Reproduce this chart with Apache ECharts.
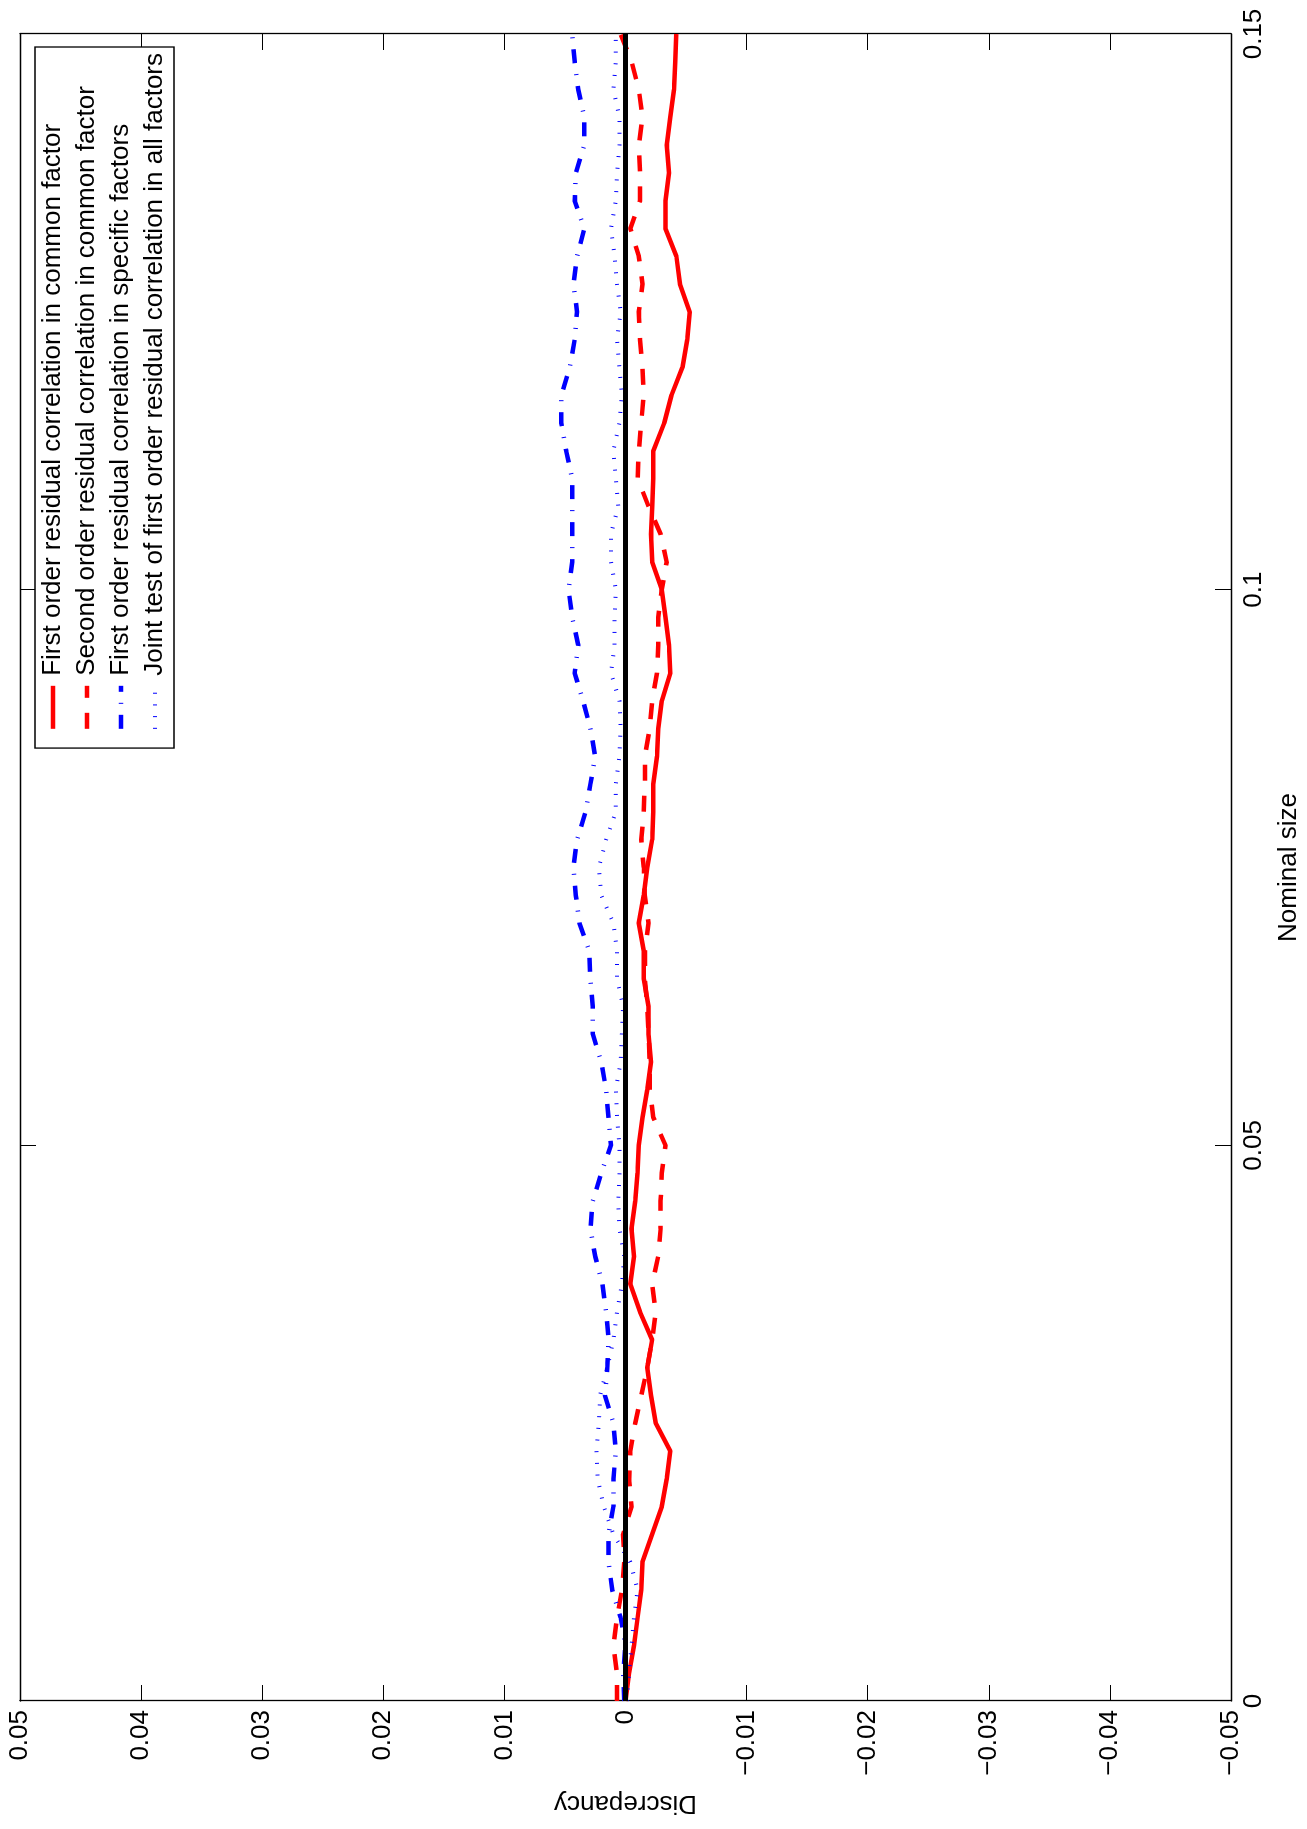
<!DOCTYPE html>
<html>
<head>
<meta charset="utf-8">
<script src="https://cdn.jsdelivr.net/npm/echarts@6/dist/echarts.min.js"></script>
<style>
html, body { margin: 0; padding: 0; background: #fff; overflow: hidden; width: 1307px; height: 1829px; }
/* the figure is drawn landscape and turned a quarter turn anticlockwise, like the printed page */
#chart {
    position: absolute; left: 0; top: 0;
    width: 1829px; height: 1307px;
    transform-origin: 0 0;
    transform: translateY(1829px) rotate(-90deg);
}
</style>
</head>
<body>
<div id="chart"></div>
<script>
// nominal size (x)
const nominal = [0, 0.0025, 0.005, 0.0075, 0.01, 0.0125, 0.015, 0.0175, 0.02, 0.0225,
    0.025, 0.0275, 0.03, 0.0325, 0.035, 0.0375, 0.04, 0.0425, 0.045, 0.0475,
    0.05, 0.0525, 0.055, 0.0575, 0.06, 0.0625, 0.065, 0.0675, 0.07, 0.0725,
    0.075, 0.0775, 0.08, 0.0825, 0.085, 0.0875, 0.09, 0.0925, 0.095, 0.0975,
    0.1, 0.1025, 0.105, 0.1075, 0.11, 0.1125, 0.115, 0.1175, 0.12, 0.1225,
    0.125, 0.1275, 0.13, 0.1325, 0.135, 0.1375, 0.14, 0.1425, 0.145, 0.1475, 0.15]

// discrepancy, one array per test
const firstCommon = [0, -0.0003, -0.0007, -0.001, -0.0013, -0.0014, -0.0022, -0.003, -0.0034, -0.0037,
    -0.0025, -0.0021, -0.0018, -0.0022, -0.0012, -0.0004, -0.0007, -0.0005, -0.0008, -0.001,
    -0.0011, -0.0014, -0.0018, -0.0021, -0.0019, -0.0019, -0.0015, -0.0015, -0.0011, -0.0015,
    -0.0018, -0.0022, -0.0023, -0.0023, -0.0026, -0.0027, -0.003, -0.0037, -0.0036, -0.0033,
    -0.003, -0.0022, -0.0021, -0.0022, -0.0023, -0.0023, -0.0032, -0.0038, -0.0047, -0.0051,
    -0.0053, -0.0045, -0.0042, -0.0033, -0.0033, -0.0036, -0.0034, -0.0037, -0.004, -0.0041, -0.0042]

const secondCommon = [0.0007, 0.0007, 0.001, 0.0007, 0.0003, 0.0001, 0.0002, -0.0005, -0.0003, -0.0004,
    -0.0008, -0.0013, -0.0018, -0.0022, -0.0025, -0.0022, -0.0027, -0.0029, -0.0029, -0.003,
    -0.0033, -0.0023, -0.002, -0.002, -0.0019, -0.0018, -0.0016, -0.0016, -0.0019, -0.0016,
    -0.0015, -0.0013, -0.0015, -0.0016, -0.0016, -0.002, -0.0022, -0.0026, -0.0027, -0.0027,
    -0.003, -0.0034, -0.0029, -0.0019, -0.001, -0.0011, -0.0013, -0.0015, -0.0014, -0.0012,
    -0.0011, -0.0014, -0.0011, -0.0004, -0.0012, -0.0012, -0.0011, -0.0014, -0.0011, -0.0005, 0.0004]

const firstSpecific = [0.0001, 0.0002, 0, 0.0004, 0.0011, 0.0014, 0.0014, 0.001, 0.001, 0.0008,
    0.001, 0.0017, 0.0015, 0.0014, 0.0016, 0.0019, 0.0025, 0.0029, 0.0027, 0.002,
    0.0012, 0.0014, 0.0016, 0.002, 0.0027, 0.0027, 0.0029, 0.003, 0.0038, 0.0041,
    0.0043, 0.004, 0.0033, 0.0029, 0.0025, 0.0029, 0.0035, 0.0042, 0.0039, 0.0044,
    0.0047, 0.0044, 0.0044, 0.0044, 0.0044, 0.0049, 0.0053, 0.0053, 0.0046, 0.0042,
    0.004, 0.0043, 0.004, 0.0034, 0.0042, 0.0041, 0.0034, 0.0034, 0.0039, 0.0042, 0.0044]

const jointAll = [-0.0001, -0.0003, -0.0005, -0.0007, -0.001, -0.0004, 0.001, 0.0018, 0.0023, 0.0024,
    0.0022, 0.0021, 0.0015, 0.001, 0.0007, 0.0003, 0.0001, 0.0005, 0.0006, 0.0005,
    0.0005, 0.0007, 0.0008, 0.0004, 0.0003, 0.0002, 0.0007, 0.0007, 0.001, 0.002,
    0.0022, 0.0016, 0.0008, 0.0008, 0.0005, 0.0004, 0.0005, 0.0012, 0.0009, 0.0009,
    0.0008, 0.0012, 0.0012, 0.0006, 0.0008, 0.001, 0.0005, 0.0003, 0.0005, 0.0007,
    0.0004, 0.0007, 0.0009, 0.0012, 0.0008, 0.0007, 0.0005, 0.0005, 0.001, 0.0008, 0.0008]

// zero reference line
const zeroX = [0, 0.15]
const zeroY = [0, 0]

const seriesNames = [
    'First order residual correlation in common factor',
    'Second order residual correlation in common factor',
    'First order residual correlation in specific factors',
    'Joint test of first order residual correlation in all factors'
]

function pairs(xs, ys){
    return xs.map((x, i) => [x, ys[i]])
}

// matlab style tick labels, with a real minus sign
function tickText(v){
    let n = Number(v.toFixed(4))
    if(n === 0) return '0'
    return n < 0 ? '\u2212' + String(-n) : String(n)
}

const font = 'Liberation Sans'
const black = '#000'

let chart = echarts.init(document.getElementById('chart'))
chart.setOption({
    animation: false,
    backgroundColor: '#fff',
    textStyle: { fontFamily: font, color: black },
    grid: { left: 128, right: 34, top: 20, bottom: 70 },
    legend: {
        orient: 'vertical',
        top: 35,
        right: 47,
        align: 'left',
        data: seriesNames,
        itemWidth: 43,
        itemHeight: 14,
        itemGap: 8,
        padding: [5, 6, 6, 17],
        borderColor: black,
        borderWidth: 1.3,
        backgroundColor: '#fff',
        // only the line sample, no marker dot
        itemStyle: { opacity: 0, borderWidth: 0 },
        lineStyle: { width: 'inherit' },
        textStyle: { fontFamily: font, fontSize: 26, color: black, padding: [0, 0, 0, 5] }
    },
    xAxis: [
        {
            type: 'value', min: 0, max: 0.15, interval: 0.05, position: 'bottom',
            name: 'Nominal size', nameLocation: 'middle', nameGap: 45,
            nameTextStyle: { fontFamily: font, fontSize: 26, color: black },
            axisLine: { onZero: false, lineStyle: { color: black, width: 1.3 } },
            axisTick: { inside: true, length: 16, lineStyle: { color: black, width: 1 } },
            axisLabel: { margin: 10, fontSize: 26, color: black, fontFamily: font, formatter: tickText },
            splitLine: { show: false }
        },
        {
            type: 'value', min: 0, max: 0.15, interval: 0.05, position: 'top',
            axisLine: { onZero: false, lineStyle: { color: black, width: 1.3 } },
            axisTick: { inside: true, length: 16, lineStyle: { color: black, width: 1 } },
            axisLabel: { show: false },
            splitLine: { show: false }
        }
    ],
    yAxis: [
        {
            type: 'value', min: -0.05, max: 0.05, interval: 0.01, position: 'left',
            name: 'Discrepancy', nameLocation: 'middle', nameGap: 89, nameRotate: 90,
            nameTextStyle: { fontFamily: font, fontSize: 26, color: black },
            axisLine: { onZero: false, lineStyle: { color: black, width: 1.3 } },
            axisTick: { inside: true, length: 16, lineStyle: { color: black, width: 1 } },
            axisLabel: { margin: 9, fontSize: 26, color: black, fontFamily: font, formatter: tickText },
            splitLine: { show: false }
        },
        {
            type: 'value', min: -0.05, max: 0.05, interval: 0.01, position: 'right',
            axisLine: { onZero: false, lineStyle: { color: black, width: 1.3 } },
            axisTick: { inside: true, length: 16, lineStyle: { color: black, width: 1 } },
            axisLabel: { show: false },
            splitLine: { show: false }
        }
    ],
    series: [
        {
            name: seriesNames[0], type: 'line', symbol: 'none', z: 3,
            data: pairs(nominal, firstCommon),
            lineStyle: { color: '#ff0000', width: 4.5 },
            itemStyle: { color: '#ff0000' }
        },
        {
            name: seriesNames[1], type: 'line', symbol: 'none', z: 3,
            data: pairs(nominal, secondCommon),
            lineStyle: { color: '#ff0000', width: 4.5, type: [16, 15], cap: 'butt' },
            itemStyle: { color: '#ff0000' }
        },
        {
            name: seriesNames[2], type: 'line', symbol: 'none', z: 3,
            data: pairs(nominal, firstSpecific),
            lineStyle: { color: '#0000ff', width: 4.5, type: [14, 11, 1, 11], cap: 'butt' },
            itemStyle: { color: '#0000ff' }
        },
        {
            name: seriesNames[3], type: 'line', symbol: 'none', z: 3,
            data: pairs(nominal, jointAll),
            lineStyle: { color: '#0000ff', width: 4, type: [1, 10.7], cap: 'butt' },
            itemStyle: { color: '#0000ff' }
        },
        {
            name: 'zero', type: 'line', symbol: 'none', z: 4,
            data: pairs(zeroX, zeroY),
            lineStyle: { color: black, width: 5 },
            itemStyle: { color: black }
        }
    ]
})
</script>
</body>
</html>
